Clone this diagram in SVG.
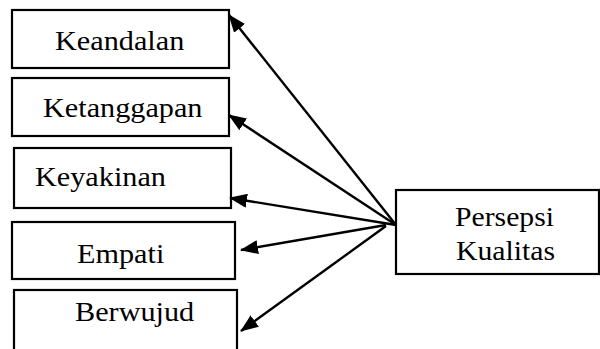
<svg xmlns="http://www.w3.org/2000/svg" width="600" height="349" viewBox="0 0 600 349">
  <style>
    .box { fill: #fff; stroke: #000; stroke-width: 2.2; }
    .lbl { font-family: 'Liberation Serif', serif; font-size: 27px; fill: #000; }
    .conn { stroke: #000; stroke-width: 2.4; fill: none; marker-end: url(#head); }
  </style>
  <defs>
    <marker id="head" markerUnits="userSpaceOnUse" markerWidth="18" markerHeight="14" refX="17" refY="7" orient="auto">
      <path d="M0,0 L18,7 L0,14 Z" fill="#000"/>
    </marker>
  </defs>
  <rect width="600" height="349" fill="#fff"/>

  <!-- labels are set in a serif face, slightly widened horizontally -->
  <g id="keandalan">
    <rect class="box" x="12" y="10" width="217" height="58"/>
    <text class="lbl" transform="translate(55 50) scale(1.12 1)">Keandalan</text>
  </g>
  <g id="ketanggapan">
    <rect class="box" x="12" y="78" width="217" height="58"/>
    <text class="lbl" transform="translate(43 117) scale(1.12 1)">Ketanggapan</text>
  </g>
  <g id="keyakinan">
    <rect class="box" x="14" y="148" width="217" height="60"/>
    <text class="lbl" transform="translate(35 186) scale(1.12 1)">Keyakinan</text>
  </g>
  <g id="empati">
    <rect class="box" x="12" y="222" width="223" height="57"/>
    <text class="lbl" transform="translate(77 263) scale(1.12 1)">Empati</text>
  </g>
  <g id="berwujud">
    <rect class="box" x="14" y="290" width="223" height="70"/>
    <text class="lbl" transform="translate(75 321) scale(1.12 1)">Berwujud</text>
  </g>
  <g id="persepsi-kualitas">
    <rect class="box" x="396" y="190" width="203" height="84"/>
    <text class="lbl" transform="translate(455 226) scale(1.1 1)">Persepsi</text>
    <text class="lbl" transform="translate(456 260) scale(1.1 1)">Kualitas</text>
  </g>

  <g id="connectors">
    <line class="conn" x1="396" y1="225" x2="229" y2="15"/>
    <line class="conn" x1="396" y1="225" x2="229" y2="115"/>
    <line class="conn" x1="396" y1="225" x2="230" y2="198"/>
    <line class="conn" x1="386" y1="225" x2="241" y2="250"/>
    <line class="conn" x1="386" y1="226" x2="241" y2="331"/>
  </g>
</svg>
